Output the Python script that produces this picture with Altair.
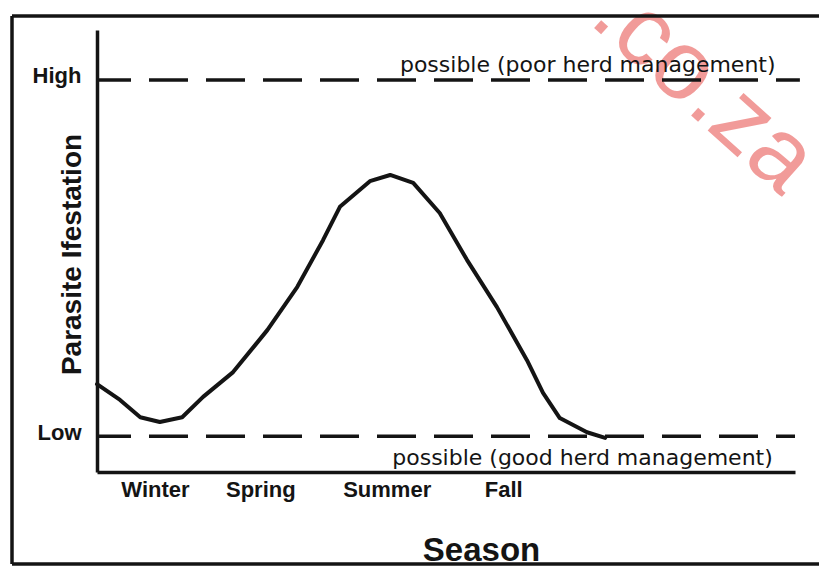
import altair as alt
import pandas as pd

# ---- data ----
season_labels = ["Winter", "Spring", "Summer", "Fall"]
season_pos = [8.3, 23.4, 41.5, 58.2]

curve_x = [0, 3.3, 6.2, 9.0, 12.2, 15.2, 19.5, 24.4, 28.7, 32.4, 34.8, 39.1,
           42.0, 45.3, 49.1, 53.0, 57.3, 61.6, 63.9, 66.3, 70.2, 72.8]
curve_y = [19.9, 16.3, 12.4, 11.3, 12.4, 17.0, 22.6, 32.1, 41.9, 52.5, 60.0, 65.8,
           67.2, 65.4, 58.6, 48.0, 37.3, 25.3, 17.9, 12.2, 9.0, 7.7]

level_labels = ["Low", "High"]
level_values = [8.1, 88.7]
level_end = [100, 100.7]

note_texts = ["possible (poor herd management)", "possible (good herd management)"]
note_x = [43.4, 42.3]
note_y = [90.5, 1.6]

watermark = ".co.za"

curve_df = pd.DataFrame({"season": curve_x, "level": curve_y})
levels_df = pd.DataFrame({"label": level_labels, "level": level_values,
                          "season": [0, 0], "season_end": level_end})
notes_df = pd.DataFrame({"text": note_texts, "season": note_x, "level": note_y})
one = pd.DataFrame({"k": [0]})

INK = "#141414"
NORMAL_FONT = "DejaVu Sans"
BOLD_FONT = "Liberation Sans"

label_expr = " : ".join(
    f"abs(datum.value - {p}) < 0.01 ? '{l}'" for p, l in zip(season_pos, season_labels)
) + " : ''"

x_scale = alt.Scale(domain=[0, 100], nice=False, zero=False)
y_scale = alt.Scale(domain=[0, 100], nice=False, zero=False)

x_axis = alt.Axis(
    values=season_pos, labelExpr=label_expr, title="Season", grid=False,
    ticks=False, tickSize=0, domainWidth=3.5, domainColor=INK,
    labelFont=BOLD_FONT, labelFontSize=22, labelFontWeight="bold", labelColor=INK,
    labelPadding=24, labelBaseline="alphabetic", labelFlush=False,
    titleFont=BOLD_FONT, titleFontSize=33, titleFontWeight="bold", titleColor=INK,
    titleX=384, titleY=88, titleAlign="center", titleBaseline="alphabetic",
)
y_axis = alt.Axis(
    values=level_values, labelExpr="datum.value < 50 ? 'Low' : 'High'",
    title="Parasite Ifestation", grid=False, ticks=False, tickSize=0,
    domainWidth=3.5, domainColor=INK,
    labelFont=BOLD_FONT, labelFontSize=22, labelFontWeight="bold", labelColor=INK,
    labelPadding=16, labelOffset=-4, labelBaseline="middle",
    titleFont=BOLD_FONT, titleFontSize=28, titleFontWeight="bold", titleColor=INK,
    titleX=-25, titleY=224, titleAngle=270, titleAlign="center", titleBaseline="middle",
)

mark_wm = alt.Chart(one).mark_text(
    text=watermark, font="Liberation Sans", fontSize=98, angle=42,
    align="center", baseline="middle", color="#e53935", opacity=0.5,
).encode(x=alt.value(607), y=alt.value(58))

curve = alt.Chart(curve_df).mark_line(
    color=INK, strokeWidth=4, interpolate="linear", strokeJoin="round", strokeCap="round"
).encode(
    x=alt.X("season:Q", scale=x_scale, axis=x_axis),
    y=alt.Y("level:Q", scale=y_scale, axis=y_axis),
)

levels = alt.Chart(levels_df).mark_rule(
    color=INK, strokeWidth=3.5, strokeDash=[39, 18], strokeDashOffset=5
).encode(
    x=alt.X("season:Q", scale=x_scale, title="Season"),
    x2="season_end:Q",
    y=alt.Y("level:Q", scale=y_scale, title="Parasite Ifestation"),
)

notes = alt.Chart(notes_df).mark_text(
    font=NORMAL_FONT, fontSize=22, color=INK, align="left", baseline="alphabetic"
).encode(
    x=alt.X("season:Q", scale=x_scale, title="Season"),
    y=alt.Y("level:Q", scale=y_scale, title="Parasite Ifestation"),
    text="text:N",
)

frame_left = alt.Chart(one).mark_rule(color=INK, strokeWidth=3.5).encode(
    x=alt.value(-85), y=alt.value(-14), y2=alt.value(534))
frame_top = alt.Chart(one).mark_rule(color=INK, strokeWidth=3.5).encode(
    x=alt.value(-85), x2=alt.value(722), y=alt.value(-14))
frame_bottom = alt.Chart(one).mark_rule(color=INK, strokeWidth=3.5).encode(
    x=alt.value(-85), x2=alt.value(722), y=alt.value(534))

chart = alt.layer(
    mark_wm, curve, levels, notes, frame_left, frame_top, frame_bottom
).properties(
    width=698, height=442,
    autosize=alt.AutoSizeParams(type="none"),
    padding={"left": 89, "top": 22, "right": 24, "bottom": 94},
    background="white",
).configure_view(stroke=None)

chart.save("out.html", embed_options={"renderer": "svg", "actions": False})
